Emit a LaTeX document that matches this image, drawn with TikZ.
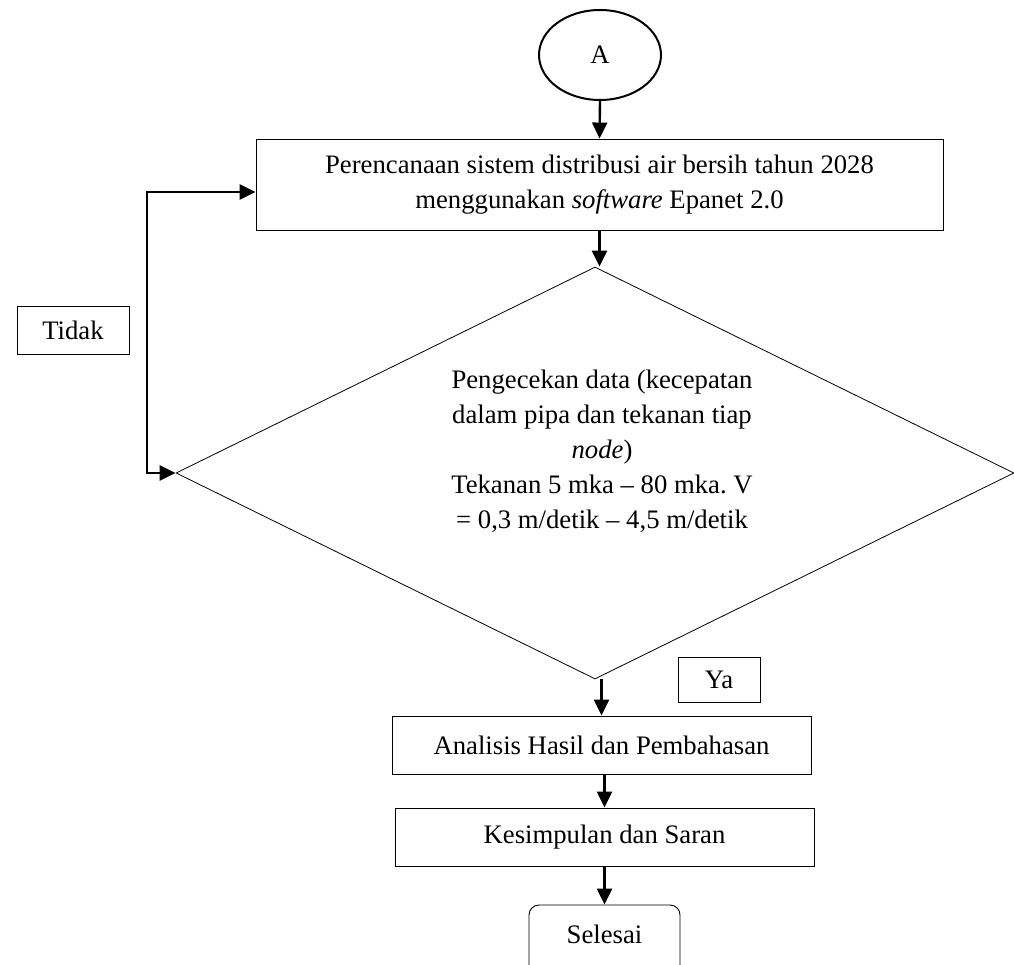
\documentclass[tikz,border=0pt]{standalone}
\usepackage{fontspec}
\setmainfont{Liberation Serif}
\usetikzlibrary{shapes.geometric,arrows.meta}
\begin{document}
\begin{tikzpicture}[x=1pt,y=-1pt,
  txt/.style={font=\fontsize{26.7}{35}\selectfont},
  box/.style={draw, line width=0.9pt, inner sep=0pt, txt, align=center},
  arr/.style={line width=2.4pt, -{Triangle[length=16pt,width=15pt]}},
  dblarr/.style={line width=2.6pt, {Triangle[length=16pt,width=15pt]}-{Triangle[length=16pt,width=15pt]}},
]
\useasboundingbox (0,0) rectangle (1014,965);
\node[ellipse, draw, line width=2pt, minimum width=122pt, minimum height=90pt, txt, inner sep=0pt] (A) at (600,55) {A};
\node[box, minimum width=687pt, minimum height=91pt] (plan) at (599.5,184.5)
  {Perencanaan sistem distribusi air bersih tahun 2028\\ menggunakan \textit{software} Epanet 2.0};
\node[diamond, draw, line width=0.8pt, minimum width=838pt, minimum height=412pt, inner sep=0pt] (cek) at (595,473) {};
\node[txt, align=center] (cektxt) at (602,451)
  {Pengecekan data (kecepatan\\ dalam pipa dan tekanan tiap\\ \textit{node})\\ Tekanan 5 mka – 80 mka.\ V\\ = 0,3 m/detik – 4,5 m/detik};
\node[box, minimum width=112pt, minimum height=48pt] (tidak) at (73,330) {Tidak};
\node[box, minimum width=82pt, minimum height=45pt] (ya) at (719,679.5) {Ya};
\node[box, minimum width=419pt, minimum height=58pt] (anal) at (601.5,745) {Analisis Hasil dan Pembahasan};
\node[box, minimum width=419pt, minimum height=58pt] (kes) at (604.5,837) {Kesimpulan dan Saran};
\node[draw, rounded corners=10pt, line width=0.9pt, minimum width=151pt, minimum height=70pt, txt, text depth=12pt, inner sep=0pt] (sel) at (604.5,940) {Selesai};
\coordinate (fb) at (147,192);
\draw[arr] (A.south) -- (plan.north);
\draw[arr] (plan.south) -- (plan.south |- cek.north);
\draw[arr] (anal.north |- cek.south) -- (anal.north);
\draw[arr] (kes.north |- anal.south) -- (kes.north);
\draw[arr] (kes.south) -- (sel.north);
\draw[dblarr] (cek.west) -| (fb) -- (plan.west |- fb);
\end{tikzpicture}
\end{document}
